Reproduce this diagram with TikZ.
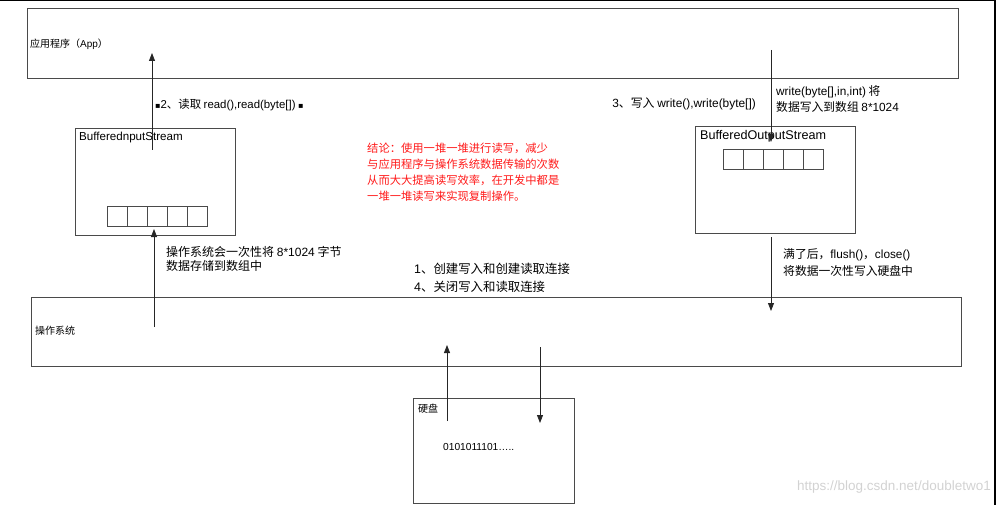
\documentclass[tikz,border=0pt]{standalone}
\usepackage{fontspec}
\setmainfont{Noto Sans CJK SC}
\newfontfamily\symfnt{DejaVu Sans}
\newfontfamily\latfnt{Liberation Sans}
\newcommand{\lt}[1]{{\latfnt #1}}
\newcommand{\sqmark}{{\symfnt\fontsize{8}{9}\selectfont ▪}}
\usetikzlibrary{arrows.meta}
\definecolor{edgegray}{HTML}{4A4A4A}
\definecolor{wmgray}{HTML}{D2D2D2}
\definecolor{conclred}{HTML}{FF1A1A}
\tikzset{
  boxnode/.style={draw=edgegray, line width=0.9pt, anchor=north west, inner sep=0pt},
  cellnode/.style={draw=edgegray, line width=0.8pt, minimum width=20pt, minimum height=20pt, inner sep=0pt, anchor=north west},
  txt/.style={anchor=west, inner sep=0pt, font=\fontsize{11.8}{14}\selectfont, align=left},
  smalltxt/.style={anchor=west, inner sep=0pt, font=\fontsize{10}{12}\selectfont},
  arr/.style={line width=0.8pt, draw=black!85, -{Triangle[length=8pt,width=6pt]}},
}
\begin{document}
\begin{tikzpicture}[x=1pt,y=-1pt]
\useasboundingbox (0,0) rectangle (998,505);
% screenshot frame edges
\draw[line width=1.5pt] (0,0.7) -- (995,0.7) -- (995,505);
% boxes
\node[boxnode, minimum width=931pt, minimum height=70pt] (app) at (27,8) {};
\node[boxnode, minimum width=160pt, minimum height=107pt] (bis) at (75,128) {};
\node[boxnode, minimum width=160pt, minimum height=107pt] (bos) at (695,126) {};
\node[boxnode, minimum width=930pt, minimum height=69pt] (os) at (31,297) {};
\node[boxnode, minimum width=161pt, minimum height=105pt] (disk) at (413,398) {};
% box labels
\node[smalltxt] (applbl) at (30,44) {应用程序（\lt{App}）};
\node[txt, font=\latfnt\fontsize{11.6}{14}\selectfont] (bislbl) at (79,138) {BufferednputStream};
\node[txt, font=\latfnt\fontsize{12.6}{14}\selectfont] (boslbl) at (700,136) {BufferedOutputStream};
\node[smalltxt] (oslbl) at (35,331) {操作系统};
\node[smalltxt] (disklbl) at (418,409) {硬盘};
\node[smalltxt, font=\latfnt\fontsize{10.2}{12}\selectfont] (bits) at (443,447) {0101011101…..};
% buffer cells
\foreach \i in {0,...,4} {
  \node[cellnode] (bc\i) at (107+20*\i,206) {};
  \node[cellnode] (oc\i) at (723+20*\i,149) {};
}
% connector end points
\coordinate (r1s) at (152,150);
\coordinate (r1e) at (152,53);
\coordinate (r2s) at (154,327);
\coordinate (r2e) at (154,229);
\coordinate (w1s) at (771,50);
\coordinate (w1e) at (771,142);
\coordinate (w2s) at (771,237);
\coordinate (w2e) at (771,311);
\coordinate (d1s) at (447,421);
\coordinate (d1e) at (447,345);
\coordinate (d2s) at (540,347);
\coordinate (d2e) at (540,423);
% connectors
\draw[arr] (r1s) -- (r1e);
\draw[arr] (r2s) -- (r2e);
\draw[arr] (w1s) -- (w1e);
\draw[arr] (w2s) -- (w2e);
\draw[arr] (d1s) -- (d1e);
\draw[arr] (d2s) -- (d2e);
% labels
\node[txt, font=\fontsize{11.4}{14}\selectfont] (lbl2) at (155,105) {\sqmark\lt{2}、读取 \lt{read(),read(byte[])} \sqmark};
\node[txt, anchor=east, font=\fontsize{11.9}{14}\selectfont] (lbl3) at (756,104) {\lt{3}、写入 \lt{write(),write(byte[])}};
\node[txt, font=\fontsize{11.8}{16}\selectfont] (lblw) at (776,99) {\lt{write(byte[],in,int)} 将\\数据写入到数组 \lt{8*1024}};
\node[txt, font=\fontsize{12}{13.5}\selectfont] (lblos) at (166,259) {操作系统会一次性将 \lt{8*1024} 字节\\数据存储到数组中};
\node[txt, font=\fontsize{11.8}{17}\selectfont] (lblflush) at (783,262.5) {满了后，\lt{flush()}，\lt{close()}\\将数据一次性写入硬盘中};
\node[txt, font=\fontsize{12.4}{14}\selectfont] (lbl1) at (414,269) {\lt{1}、创建写入和创建读取连接};
\node[txt, font=\fontsize{12.4}{14}\selectfont] (lbl4) at (414,287) {\lt{4}、关闭写入和读取连接};
\node[txt, text=conclred, font=\fontsize{11.3}{16}\selectfont] (concl) at (367,172) {结论：使用一堆一堆进行读写，减少\\与应用程序与操作系统数据传输的次数\\从而大大提高读写效率，在开发中都是\\一堆一堆读写来实现复制操作。};
\node[anchor=east, inner sep=0pt, text=wmgray, font=\latfnt\fontsize{13.5}{15}\selectfont] (wm) at (991,487) {https://blog.csdn.net/doubletwo1};
\end{tikzpicture}
\end{document}
